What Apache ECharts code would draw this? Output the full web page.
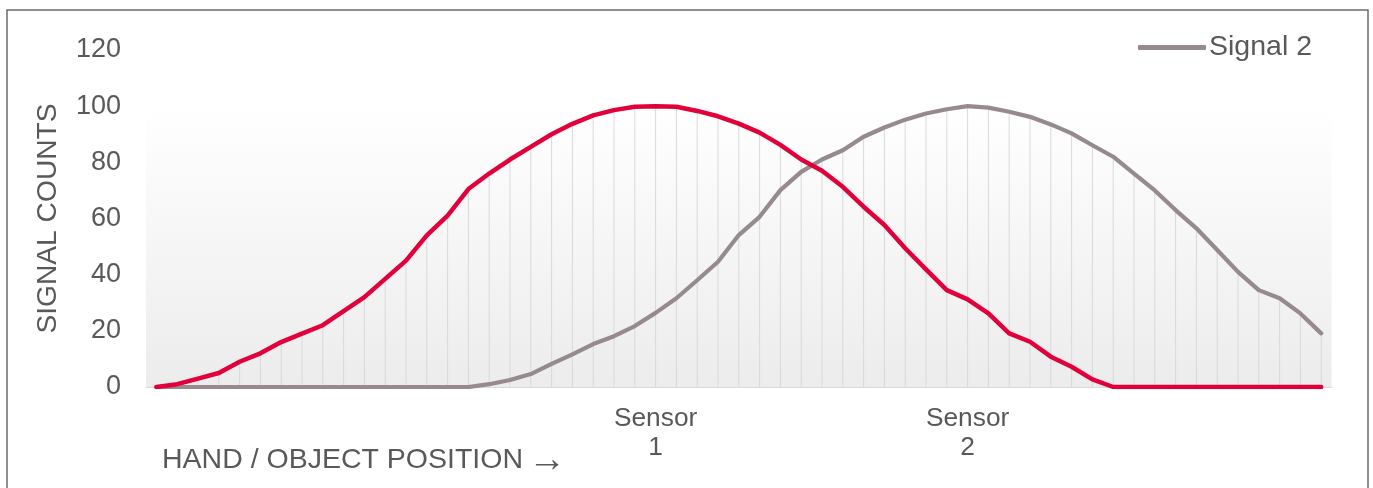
<!DOCTYPE html>
<html>
<head>
<meta charset="utf-8">
<script src="https://cdn.jsdelivr.net/npm/echarts@6/dist/echarts.min.js"></script>
<style>
html,body{margin:0;padding:0;background:#fff;}
#chart{width:1373px;height:488px;}
</style>
</head>
<body>
<div id="chart"></div>
<script>
// ---- data ----
var positions = [
  '','','','','','','','','','','','','','','','','','','','','','','','',
  'Sensor\n1',
  '','','','','','','','','','','','','','',
  'Sensor\n2',
  '','','','','','','','','','','','','','','','',''
];
var signal1 = [
  0, 1, 3, 5, 9, 12, 16, 19, 22, 27, 32, 38.5, 45, 54, 61, 70.5,
  76, 81, 85.5, 90, 93.7, 96.7, 98.6, 99.8, 100, 99.8, 98.3, 96.4, 93.8, 90.6,
  86.2, 81, 77, 71.3, 64.2, 57.7, 49.4, 41.9, 34.5, 31.2, 26.2, 19.1, 16.1,
  10.8, 7.2, 2.7, 0, 0, 0, 0, 0, 0, 0, 0, 0, 0, 0
];
var signal2 = [
  0, 0, 0, 0, 0, 0, 0, 0, 0, 0, 0, 0, 0, 0, 0, 0,
  1, 2.5, 4.6, 8.2, 11.6, 15.3, 18.1, 21.7, 26.4, 31.6, 38, 44.6, 54.1, 60.6,
  70.1, 76.6, 81, 84.3, 89.1, 92.4, 95.2, 97.4, 98.9, 100, 99.5, 98, 96.2,
  93.5, 90.3, 86.1, 82, 76, 70, 63, 56.5, 48.8, 41, 34.5, 31.6, 26.2, 19.1
];
var yTicks = [0, 20, 40, 60, 80, 100, 120];
var seriesNames = ['Signal 1', 'Signal 2'];
var xTitle = 'HAND / OBJECT POSITION';
var xArrow = '\u2192';
var yTitle = 'SIGNAL COUNTS';

// drop lines reach the higher of the two signals
var dropLines = signal1.map(function (v, i) { return Math.max(v, signal2[i]); });

var FONT = '"Liberation Sans", Arial, sans-serif';
var TXT = '#595959';
var RED = '#E2003B';
var GRAY = '#968A8E';

var chart = echarts.init(document.getElementById('chart'), null, {renderer: 'canvas'});
chart.setOption({
  animation: false,
  backgroundColor: '#ffffff',
  textStyle: {fontFamily: FONT},
  title: {
    text: xTitle + '{arr|' + xArrow + '}',
    left: 162,
    top: 444,
    padding: 0,
    textStyle: {
      fontSize: 28.5, fontWeight: 'normal', color: TXT, fontFamily: FONT, lineHeight: 32,
      rich: {arr: {fontSize: 38, color: TXT, fontFamily: FONT, lineHeight: 32, padding: [2, 0, 0, 5]}}
    }
  },
  legend: {
    data: ['Signal 2'],
    left: 1138,
    top: 33,
    padding: 0,
    icon: 'roundRect',
    itemWidth: 68,
    itemHeight: 5,
    itemGap: 10,
    textStyle: {fontSize: 28.5, color: TXT, fontFamily: FONT, padding: [0, 0, 0, -2]}
  },
  graphic: [{
    type: 'rect',
    silent: true,
    shape: {x: 7, y: 10, width: 1361, height: 500},
    style: {fill: 'none', stroke: '#6b6b6b', lineWidth: 1.5},
    z: 100
  }],
  grid: {left: 146, right: 41.4, top: 50, bottom: 101, containLabel: false},
  xAxis: {
    type: 'category',
    data: positions,
    boundaryGap: true,
    axisLine: {show: true, lineStyle: {color: '#d9d9d9', width: 1}},
    axisTick: {show: false},
    axisLabel: {
      interval: 0,
      margin: 17,
      fontSize: 26.3,
      lineHeight: 29,
      color: TXT,
      fontFamily: FONT
    },
    splitLine: {show: false}
  },
  yAxis: {
    type: 'value',
    min: yTicks[0],
    max: yTicks[yTicks.length - 1],
    interval: yTicks[1] - yTicks[0],
    name: yTitle,
    nameLocation: 'middle',
    nameGap: 84,
    nameTextStyle: {fontSize: 28.2, color: TXT, fontFamily: FONT},
    axisLine: {show: false},
    axisTick: {show: false},
    splitLine: {show: false},
    axisLabel: {fontSize: 27, color: TXT, margin: 25, fontFamily: FONT}
  },
  series: [
    {
      name: 'drop',
      type: 'bar',
      data: dropLines,
      barWidth: 1,
      silent: true,
      itemStyle: {color: '#d9d9d9'},
      z: 1,
      markArea: {
        silent: true,
        itemStyle: {
          color: new echarts.graphic.LinearGradient(0, 0, 0, 1, [
            {offset: 0, color: '#ffffff'},
            {offset: 1, color: '#ececec'}
          ])
        },
        data: [[{yAxis: 0}, {yAxis: 100}]]
      }
    },
    {
      name: seriesNames[1],
      type: 'line',
      data: signal2,
      showSymbol: false,
      symbol: 'none',
      smooth: false,
      lineStyle: {color: GRAY, width: 4.2, cap: 'round', join: 'round'},
      itemStyle: {color: GRAY},
      z: 3
    },
    {
      name: seriesNames[0],
      type: 'line',
      data: signal1,
      showSymbol: false,
      symbol: 'none',
      smooth: false,
      lineStyle: {color: RED, width: 4.5, cap: 'round', join: 'round'},
      itemStyle: {color: RED},
      z: 4
    }
  ]
});
</script>
</body>
</html>
